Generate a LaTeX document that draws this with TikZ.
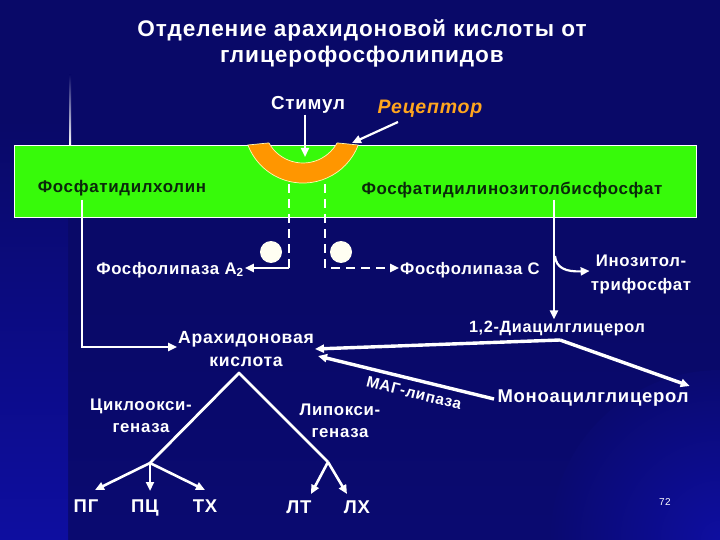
\documentclass[tikz,border=0pt]{standalone}
\usepackage{fontspec}
\setmainfont{Liberation Sans}[LetterSpace=4]
\usetikzlibrary{arrows.meta}
\definecolor{bgnavy}{RGB}{9,9,104}
\definecolor{bgblue}{RGB}{14,14,160}
\definecolor{membgreen}{RGB}{55,250,10}
\definecolor{recorange}{RGB}{255,150,0}
\definecolor{rectext}{RGB}{255,165,30}
\definecolor{membtext}{RGB}{10,40,10}
\begin{document}
\begin{tikzpicture}[x=1pt,y=-1pt,
  wtxt/.style={text=white,inner sep=1pt,align=center},
  lab/.style={wtxt,font=\bfseries\fontsize{16.8}{22}\selectfont},
  biglab/.style={wtxt,font=\bfseries\fontsize{18.5}{22}\selectfont},
  leaf/.style={biglab,anchor=base},
  membtxt/.style={text=membtext,inner sep=1pt,font=\bfseries\fontsize{16.9}{18}\selectfont},
  tip/.style={-{Triangle[length=9pt,width=8pt]}},
  conn/.style={white,line width=2.6pt,tip},
  thick conn/.style={white,line width=3.4pt,tip},
  dashconn/.style={white,line width=2.6pt,dash pattern=on 9pt off 6pt,tip}]
\useasboundingbox (0,0) rectangle (720,540);
% background
\fill[bgnavy] (0,0) rectangle (720,540);
\shade[top color=bgnavy,bottom color=bgnavy!85!bgblue] (0,300) rectangle (720,540);
\shade[top color=bgnavy,bottom color=bgblue] (0,120) rectangle (68,540);
\begin{scope}
\clip (0,0) rectangle (720,540);
\shade[inner color=bgblue,outer color=bgnavy!85!bgblue] (720,540) circle[radius=170];
\end{scope}
\shade[top color=bgnavy,bottom color=white] (69,75) rectangle (71,145);
% title
\node[wtxt,font=\bfseries\fontsize{22.6}{26}\selectfont] (title) at (362,43) {Отделение арахидоновой кислоты от\\глицерофосфолипидов};
% membrane
\node[draw=white,line width=0.8pt,fill=membgreen,minimum width=682pt,minimum height=72pt,inner sep=0pt] (memb) at (355,181) {};
% receptor
\filldraw[fill=recorange,draw=white!70!yellow,line width=0.7pt]
  (358.2,145) arc[start angle=20.8,end angle=159.2,radius=59]
  -- (268.9,142.9) arc[start angle=151,end angle=29,radius=39] -- cycle;
\node[wtxt,font=\bfseries\fontsize{18.8}{22}\selectfont] (stim) at (308,105) {Стимул};
\node[text=rectext,inner sep=1pt,font=\bfseries\itshape\fontsize{19.5}{22}\selectfont] (rec) at (430,109) {Рецептор};
\coordinate (cupin) at (305,157);
\coordinate (recL) at (398,122);
\coordinate (recpt) at (352,143);
\draw[white,line width=2.2pt,tip] (stim.south -| cupin) -- (cupin);
\draw[white,line width=2.2pt,tip] (recL) -- (recpt);
\node[membtxt] (pc) at (122,188) {Фосфатидилхолин};
\node[membtxt] (pip) at (512,190) {Фосфатидилинозитолбисфосфат};
% phospholipases
\node[fill=white!95!yellow,circle,minimum size=22pt,inner sep=0pt] (c1) at (271,252) {};
\node[fill=white!95!yellow,circle,minimum size=22pt,inner sep=0pt] (c2) at (341,252) {};
\node[lab] (pla) at (170,270) {Фосфолипаза A\textsubscript{2}};
\node[wtxt,font=\bfseries\fontsize{16.7}{20}\selectfont] (plc) at (470,270) {Фосфолипаза С};
\coordinate (dL) at (289,184);
\coordinate (dR) at (325,184);
\draw[white,line width=2.6pt,dash pattern=on 9pt off 6pt] (dL) -- (289,268);
\draw[conn] (289,268) -- (pla.east |- 0,268);
\draw[dashconn] (dR) |- (plc.west |- 0,268);
% IP3 and DAG
\node[wtxt,font=\bfseries\fontsize{16.8}{24}\selectfont] (ip3) at (641,274) {Инозитол-\\трифосфат};
\node[wtxt,font=\bfseries\fontsize{16.3}{20}\selectfont] (dag) at (557,328) {1,2-Диацилглицерол};
\coordinate (pipdown) at (554,200);
\draw[conn] (pipdown) -- (dag.north -| pipdown);
\draw[white,line width=2.2pt,tip] (555,256) .. controls (556,268) and (566,272) .. (ip3.west |- 0,271);
% arachidonic acid
\node[wtxt,font=\bfseries\fontsize{17.6}{23}\selectfont] (aa) at (246,349) {Арахидоновая\\кислота};
\coordinate (pcdown) at (82,200);
\draw[conn] (pcdown) |- (aa.west |- 0,347);
\node[biglab] (mag) at (593,398) {Моноацилглицерол};
\coordinate (dagj) at (560,340);
\draw[thick conn] (dagj) -- (aa.east |- 0,349);
\draw[thick conn] (dagj) -- (mag.north east |- 0,386);
\coordinate (magL) at (494,399);
\coordinate (aaR) at (318,356);
\draw[thick conn] (magL) -- (aaR);
\node[wtxt,font=\bfseries\fontsize{15.5}{18}\selectfont,rotate=-14] (maglip) at (414,393) {МАГ-липаза};
% enzyme branches
\coordinate (apex) at (239,373);
\coordinate (jL) at (150,463);
\coordinate (jR) at (328,462);
\draw[white,line width=2.8pt,line join=round] (jL) -- (apex) -- (jR);
\node[lab] (cox) at (141,416) {Циклоокси-\\геназа};
\node[lab] (lox) at (340,421) {Липокси-\\геназа};
\node[leaf] (pg) at (86,512) {ПГ};
\node[leaf] (pc2) at (145,512) {ПЦ};
\node[leaf] (tx) at (205,512) {ТХ};
\node[leaf] (lt) at (299,513) {ЛТ};
\node[leaf] (lx) at (357,513) {ЛХ};
\draw[conn] (jL) -- (95,490);
\draw[conn] (jL) -- (150,491);
\draw[conn] (jL) -- (205,490);
\draw[conn] (jR) -- (311,494);
\draw[conn] (jR) -- (347,494);
\node[text=white,font=\fontsize{10}{12}\selectfont] (pnum) at (665,502) {72};
\end{tikzpicture}
\end{document}
